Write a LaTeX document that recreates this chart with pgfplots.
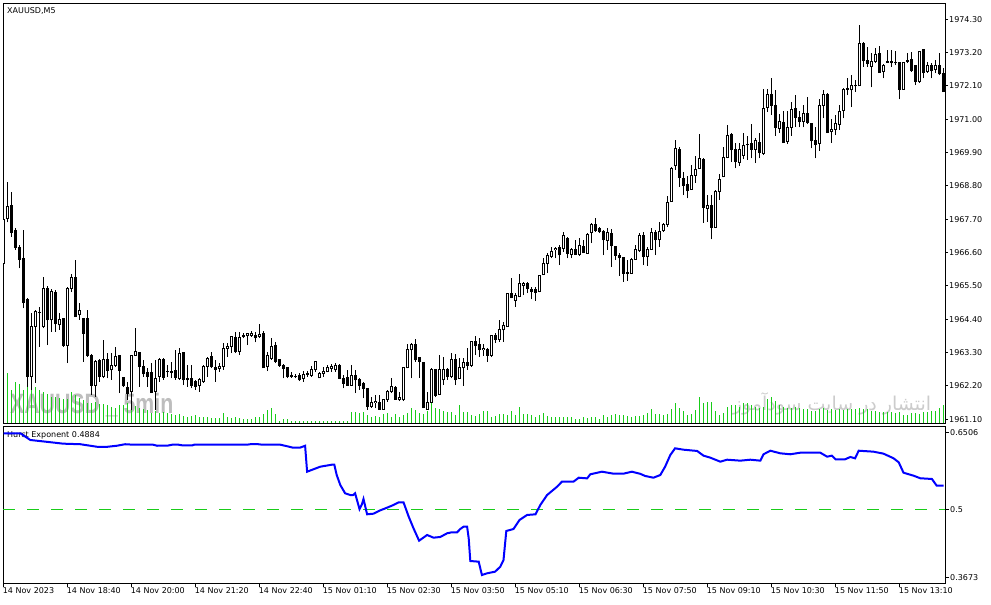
\documentclass[border=0pt]{standalone}
\usepackage{fontspec}
\setmainfont{DejaVu Sans}
\newfontfamily\arabicfont[Script=Arabic]{DejaVu Sans}
\newfontfamily\wmfont{Liberation Sans}
\TeXXeTstate=1
\usepackage{pgfplots}
\usepackage{pgfplotstable}
\pgfplotsset{compat=1.18}

\definecolor{volgreen}{rgb}{0.1,0.8,0.1}
\definecolor{wmgray}{rgb}{0.74,0.74,0.74}
\definecolor{wmlight}{rgb}{0.8,0.8,0.8}

% bar index, open, high, low, close, tick volume
\pgfplotstableread{
i o h l c v
0 1966.25 1968.30 1965.04 1967.68 52
1 1967.73 1968.93 1967.60 1968.12 50
2 1968.14 1968.60 1967.13 1967.26 33
3 1967.33 1967.40 1966.70 1966.78 41
4 1966.78 1966.85 1966.08 1966.38 39
5 1966.41 1967.35 1964.76 1964.95 33
6 1965.04 1965.10 1962.18 1962.51 38
7 1962.51 1964.60 1962.07 1964.16 41
8 1964.16 1964.70 1962.30 1964.65 36
9 1964.62 1964.82 1963.50 1964.63 33
10 1964.16 1965.80 1964.10 1965.42 31
11 1965.42 1965.50 1963.55 1964.38 29
12 1964.38 1965.40 1963.99 1965.31 26
13 1965.28 1965.37 1963.99 1964.25 26
14 1964.22 1964.60 1964.05 1964.38 25
15 1964.43 1964.45 1963.50 1963.55 24
16 1963.55 1965.45 1962.95 1965.42 24
17 1965.42 1965.90 1965.30 1965.79 31
18 1965.79 1966.36 1964.47 1964.49 28
19 1964.55 1964.93 1964.38 1964.68 25
20 1964.43 1964.45 1963.00 1963.94 23
21 1964.43 1964.70 1963.17 1963.22 20
22 1963.22 1963.24 1961.90 1962.23 20
23 1962.23 1963.06 1961.85 1963.00 21
24 1963.04 1963.10 1962.34 1962.51 19
25 1962.51 1963.72 1962.45 1963.08 19
26 1963.08 1963.28 1962.45 1962.71 18
27 1962.73 1963.28 1962.40 1962.86 16
28 1962.89 1963.50 1962.84 1963.17 15
29 1963.19 1963.22 1961.96 1962.71 18
30 1962.49 1962.51 1962.16 1962.20 18
31 1962.16 1962.34 1961.74 1961.96 20
32 1962.01 1963.22 1961.41 1963.22 19
33 1963.22 1964.10 1963.20 1963.33 17
34 1963.30 1963.32 1962.18 1962.84 15
35 1962.84 1963.06 1962.51 1962.60 14
36 1962.64 1962.78 1962.18 1962.51 13
37 1962.64 1962.95 1961.96 1961.98 10
38 1962.01 1963.06 1961.41 1962.45 12
39 1962.51 1963.11 1962.34 1963.06 10
40 1963.06 1963.11 1962.40 1962.49 11
41 1962.67 1962.90 1962.51 1962.69 10
42 1962.69 1963.00 1962.45 1962.66 9
43 1962.71 1963.39 1962.40 1962.49 8
44 1962.45 1963.44 1962.40 1963.28 9
45 1963.30 1963.32 1962.23 1962.40 7
46 1962.45 1962.89 1962.18 1962.40 6
47 1962.45 1962.89 1962.12 1962.23 7
48 1962.34 1962.40 1962.07 1962.18 8
49 1962.23 1962.45 1962.01 1962.40 6
50 1962.34 1962.89 1962.31 1962.84 6
51 1962.84 1963.17 1962.51 1963.11 6
52 1963.17 1963.33 1962.78 1962.84 5
53 1962.80 1963.06 1962.34 1962.76 5
54 1962.78 1962.95 1962.67 1962.84 5
55 1962.84 1963.61 1962.73 1963.44 10
56 1963.44 1963.61 1963.17 1963.50 6
57 1963.50 1963.83 1963.28 1963.83 5
58 1963.80 1963.99 1963.28 1963.33 6
59 1963.33 1963.99 1963.22 1963.80 5
60 1963.83 1963.94 1963.77 1963.85 4
61 1963.85 1963.96 1963.55 1963.94 4
62 1963.86 1964.01 1963.83 1963.94 4
63 1963.86 1963.99 1963.64 1963.79 6
64 1963.83 1964.23 1963.79 1963.91 6
65 1963.94 1964.01 1962.80 1962.80 9
66 1962.84 1963.33 1962.69 1963.22 13
67 1963.11 1963.77 1963.06 1963.50 15
68 1963.55 1963.66 1962.95 1963.00 9
69 1963.06 1963.08 1962.84 1962.87 2
70 1962.87 1962.91 1962.45 1962.78 4
71 1962.80 1962.84 1962.45 1962.51 4
72 1962.53 1962.67 1962.47 1962.51 2
73 1962.52 1962.58 1962.45 1962.51 2
74 1962.54 1962.62 1962.36 1962.40 2
75 1962.45 1962.69 1962.34 1962.58 2
76 1962.59 1962.69 1962.51 1962.62 2
77 1962.56 1962.87 1962.51 1962.73 2
78 1962.73 1963.02 1962.67 1963.02 2
79 1962.47 1962.67 1962.45 1962.62 2
80 1962.62 1962.84 1962.51 1962.67 2
81 1962.67 1962.89 1962.65 1962.80 2
82 1962.78 1962.91 1962.67 1962.84 2
83 1962.73 1962.95 1962.67 1962.89 2
84 1962.89 1962.91 1962.43 1962.45 2
85 1962.45 1962.56 1962.12 1962.29 2
86 1962.47 1962.73 1962.21 1962.23 2
87 1962.23 1962.89 1962.21 1962.56 11
88 1962.54 1962.73 1961.96 1962.40 11
89 1962.43 1962.45 1962.07 1962.21 10
90 1962.29 1962.34 1961.79 1962.12 11
91 1962.12 1962.14 1961.41 1961.52 8
92 1961.52 1961.85 1961.48 1961.66 6
93 1961.66 1961.90 1961.46 1961.70 7
94 1961.66 1961.90 1961.41 1961.44 6
95 1961.44 1961.77 1961.41 1961.74 9
96 1961.74 1962.07 1961.68 1962.01 10
97 1962.01 1962.47 1961.96 1962.18 6
98 1962.14 1962.21 1961.74 1961.77 9
99 1961.74 1962.01 1961.70 1961.81 6
100 1961.74 1962.84 1961.70 1962.80 8
101 1962.80 1963.57 1962.78 1963.39 10
102 1963.39 1963.61 1962.45 1963.57 15
103 1963.57 1963.75 1963.00 1963.06 13
104 1963.13 1963.17 1962.47 1963.02 10
105 1962.98 1963.00 1961.46 1961.48 9
106 1961.44 1962.01 1961.41 1961.66 12
107 1961.66 1962.78 1961.63 1962.73 20
108 1962.73 1962.76 1961.85 1961.90 15
109 1961.92 1963.22 1961.90 1962.73 14
110 1962.40 1963.17 1962.23 1962.73 12
111 1962.73 1962.78 1962.40 1962.51 11
112 1962.51 1963.28 1962.45 1963.06 11
113 1963.06 1963.24 1962.23 1962.40 8
114 1962.45 1963.11 1962.43 1962.80 18
115 1962.80 1963.11 1962.21 1962.98 11
116 1962.98 1963.44 1962.73 1962.87 11
117 1962.89 1963.68 1962.84 1963.66 8
118 1963.68 1963.86 1963.22 1963.53 7
119 1963.57 1963.77 1963.17 1963.39 9
120 1963.39 1963.60 1963.20 1963.44 12
121 1963.42 1963.46 1963.00 1963.22 12
122 1963.22 1963.88 1963.15 1963.88 6
123 1963.88 1963.94 1963.61 1963.74 7
124 1963.74 1964.38 1963.66 1964.05 9
125 1964.05 1964.32 1963.66 1964.18 9
126 1964.16 1965.24 1964.16 1965.24 8
127 1965.24 1965.75 1965.09 1965.11 12
128 1965.02 1965.26 1964.82 1965.17 8
129 1965.15 1965.90 1965.12 1965.57 16
130 1965.52 1965.64 1965.20 1965.59 9
131 1965.59 1965.64 1965.26 1965.42 9
132 1965.39 1965.48 1965.06 1965.31 8
133 1965.37 1965.48 1965.02 1965.29 6
134 1965.31 1965.86 1965.29 1965.83 8
135 1965.88 1966.41 1965.86 1966.25 10
136 1966.25 1966.60 1965.92 1966.50 7
137 1966.47 1966.77 1966.41 1966.63 6
138 1966.69 1966.80 1966.41 1966.74 6
139 1966.77 1966.85 1966.19 1966.53 6
140 1966.74 1967.29 1966.63 1967.15 6
141 1967.07 1967.10 1966.41 1966.58 6
142 1966.55 1966.74 1966.41 1966.71 6
143 1966.69 1967.02 1966.52 1966.55 4
144 1966.55 1967.07 1966.49 1966.82 4
145 1966.80 1967.02 1966.58 1966.60 6
146 1966.58 1967.24 1966.58 1967.21 5
147 1967.26 1967.57 1966.91 1967.54 6
148 1967.53 1967.73 1967.29 1967.32 6
149 1967.39 1967.46 1967.24 1967.29 4
150 1967.29 1967.34 1966.52 1967.02 8
151 1967.00 1967.40 1966.69 1967.28 6
152 1967.24 1967.37 1966.14 1966.82 8
153 1966.80 1966.82 1966.36 1966.52 9
154 1966.52 1966.60 1965.83 1966.43 8
155 1966.44 1966.47 1965.64 1965.92 8
156 1965.92 1966.36 1965.67 1965.94 7
157 1965.92 1966.41 1965.90 1966.38 6
158 1966.38 1966.85 1966.36 1966.69 7
159 1966.66 1967.26 1966.63 1967.15 7
160 1967.18 1967.29 1966.19 1966.47 8
161 1966.47 1966.80 1966.16 1966.72 10
162 1966.71 1967.40 1966.69 1967.26 14
163 1967.26 1967.35 1966.52 1967.02 9
164 1967.02 1967.62 1966.80 1967.29 9
165 1967.32 1967.57 1967.29 1967.53 8
166 1967.54 1968.47 1967.46 1968.25 9
167 1968.28 1969.42 1968.28 1969.38 14
168 1969.46 1970.32 1969.33 1970.04 20
169 1969.99 1970.07 1968.78 1969.08 15
170 1969.05 1969.27 1968.50 1968.83 12
171 1968.86 1969.13 1968.39 1968.65 8
172 1968.69 1969.49 1968.67 1969.16 9
173 1969.16 1969.79 1968.91 1969.35 13
174 1969.38 1970.52 1969.35 1969.71 26
175 1969.68 1969.71 1967.59 1968.10 20
176 1968.06 1968.50 1967.62 1968.17 21
177 1968.17 1968.50 1967.04 1967.43 21
178 1967.43 1968.67 1967.41 1968.63 12
179 1968.61 1969.20 1968.34 1969.02 8
180 1969.11 1970.10 1969.08 1969.74 10
181 1969.74 1970.81 1969.71 1970.48 16
182 1970.51 1970.54 1969.60 1969.99 18
183 1970.01 1970.21 1969.38 1969.60 18
184 1969.57 1970.21 1969.46 1969.99 16
185 1969.82 1970.54 1969.68 1970.12 20
186 1970.16 1970.45 1969.66 1970.18 20
187 1970.21 1970.84 1969.71 1970.01 18
188 1970.01 1970.37 1969.55 1970.29 16
189 1970.24 1970.54 1969.71 1969.90 15
190 1969.88 1971.99 1969.82 1971.36 16
191 1971.39 1971.99 1971.25 1971.83 24
192 1971.83 1972.35 1971.14 1971.47 26
193 1971.47 1971.97 1970.45 1970.73 22
194 1970.70 1971.17 1970.56 1970.92 18
195 1970.89 1971.29 1970.23 1970.23 16
196 1970.26 1971.29 1970.18 1970.73 15
197 1970.73 1971.58 1970.45 1971.33 15
198 1971.36 1971.80 1970.76 1971.06 16
199 1971.06 1971.29 1970.73 1970.92 15
200 1970.92 1971.47 1970.73 1971.20 14
201 1971.20 1971.73 1970.84 1970.89 14
202 1970.87 1970.89 1970.04 1970.29 12
203 1970.29 1970.73 1969.71 1970.18 12
204 1970.21 1971.66 1969.96 1971.47 14
205 1971.47 1971.97 1971.03 1971.83 15
206 1971.83 1971.88 1970.54 1970.56 13
207 1970.59 1971.00 1970.23 1970.67 14
208 1970.67 1971.14 1970.48 1970.87 13
209 1970.84 1971.47 1970.65 1971.25 14
210 1971.29 1972.02 1971.03 1971.99 13
211 1972.02 1972.35 1971.80 1971.99 14
212 1971.97 1972.46 1971.40 1972.10 14
213 1972.10 1972.30 1971.91 1972.13 14
214 1972.10 1974.11 1972.10 1973.51 15
215 1973.51 1973.56 1972.74 1972.93 14
216 1972.93 1973.40 1972.74 1972.85 14
217 1972.74 1973.20 1972.05 1972.90 12
218 1972.90 1973.34 1972.85 1973.15 12
219 1973.18 1973.42 1972.54 1972.54 11
220 1972.57 1972.82 1972.35 1972.79 11
221 1972.88 1973.29 1972.85 1972.90 11
222 1972.90 1973.29 1972.74 1972.87 11
223 1972.88 1973.26 1972.79 1972.86 10
224 1972.87 1972.90 1971.66 1971.99 11
225 1971.99 1972.90 1971.97 1972.87 8
226 1972.90 1973.20 1972.85 1972.93 8
227 1972.98 1973.23 1972.57 1972.60 10
228 1972.76 1972.79 1972.13 1972.24 10
229 1972.24 1973.26 1972.21 1973.23 9
230 1973.29 1973.31 1972.35 1972.54 11
231 1972.57 1972.90 1972.54 1972.76 11
232 1972.76 1972.87 1972.35 1972.60 12
233 1972.65 1972.96 1972.52 1972.76 12
234 1972.76 1973.18 1972.46 1972.50 15
235 1972.50 1972.68 1971.91 1971.91 18
}\bars

% Hurst exponent, read along the bar index
\pgfplotstableread{
i hurst
0 0.6494
4.2 0.6494
6.7 0.6363
11.2 0.6324
14.9 0.6291
19.2 0.6280
23.4 0.6230
26.0 0.6230
28.4 0.6251
30.4 0.6280
32.4 0.6271
37.4 0.6271
38.4 0.6250
41.2 0.6255
42.2 0.6271
43.7 0.6271
44.7 0.6258
47.2 0.6258
47.7 0.6271
60.9 0.6271
61.7 0.6280
63.7 0.6280
64.7 0.6271
69.2 0.6271
71.2 0.6235
72.4 0.6212
74.2 0.6215
75.4 0.6250
75.9 0.5742
79.2 0.5840
82.1 0.5879
82.7 0.5879
83.3 0.5677
84.2 0.5481
85.4 0.5319
86.7 0.5285
87.4 0.5285
87.9 0.5319
89.0 0.5010
89.6 0.5103
90.0 0.5207
90.9 0.4907
92.5 0.4919
94.2 0.4985
95.9 0.5037
97.5 0.5090
98.8 0.5142
100.0 0.5142
101.3 0.4861
102.5 0.4633
103.9 0.4390
105.9 0.4502
107.5 0.4449
109.2 0.4463
110.9 0.4535
112.1 0.4555
113.4 0.4555
114.2 0.4619
115.0 0.4664
115.9 0.4664
116.3 0.4437
116.7 0.3992
118.8 0.3979
119.6 0.3718
120.9 0.3751
122.9 0.3783
124.2 0.3881
125.0 0.4012
125.7 0.4580
127.5 0.4619
129.0 0.4796
130.9 0.4894
133.0 0.4907
134.2 0.5090
135.9 0.5285
138.4 0.5448
139.6 0.5546
142.5 0.5546
143.8 0.5624
145.9 0.5611
146.7 0.5691
149.6 0.5742
152.5 0.5703
155.0 0.5703
157.1 0.5742
159.2 0.5700
160.4 0.5658
162.5 0.5624
164.2 0.5677
165.4 0.5840
166.7 0.6069
167.9 0.6200
170.0 0.6173
173.4 0.6148
175.0 0.6056
176.7 0.6017
179.2 0.5938
180.9 0.5977
184.2 0.5958
186.7 0.5977
189.2 0.5958
190.0 0.6083
191.7 0.6153
194.2 0.6102
196.7 0.6083
199.2 0.6114
204.2 0.6114
205.9 0.6036
207.1 0.6056
208.0 0.5985
210.4 0.5985
211.7 0.6030
212.9 0.6004
213.8 0.6153
217.5 0.6134
220.0 0.6095
222.5 0.6005
223.8 0.5926
225.0 0.5722
227.5 0.5664
229.2 0.5613
232.1 0.5599
233.3 0.5468
235.0 0.5468
}\hurst

\pgfplotsset{
  mtpanel/.style={
    scale only axis, anchor=north west, width=942pt,
    xmin=-0.125, xmax=235.375,
    axis line style={line width=1pt, black},
    tick style={line width=1pt, black},
    tick align=outside, major tick length=3pt,
    every tick label/.append style={font=\fontsize{8}{9}\selectfont, text=black},
    yticklabel style={anchor=west, inner sep=0pt, xshift=1pt},
  },
}

\begin{document}
\begin{tikzpicture}[x=1pt,y=1pt]
\useasboundingbox (0pt,0pt) rectangle (991pt,-605pt);
\fill[white] (0pt,0pt) rectangle (991pt,-605pt);

% watermarks under the bars
\node[anchor=base west, inner sep=0pt, text=wmgray, xscale=0.76,
      font=\wmfont\bfseries\fontsize{28}{28}\selectfont] at (10pt,-413pt) {XAUUSD \_ 5min};
\node[anchor=base, inner sep=0pt, text=wmlight,
      font=\arabicfont\fontsize{19}{19}\selectfont] at (832pt,-410pt) {\beginR انتشار در سایت سودآموز\endR};

% volumes
\begin{axis}[mtpanel, at={(3pt,-3pt)}, height=420pt, ymin=0, ymax=420, axis lines=none]
\addplot[ycomb, color=volgreen, line width=1.5pt] table[x=i, y=v] {\bars};
\end{axis}

% price candles
\begin{axis}[mtpanel, at={(3pt,-3pt)}, height=420pt,
  ymin=1960.978, ymax=1974.838,
  xtick=\empty, ytick pos=right,
  ytick={1961.1,1962.2,1963.3,1964.4,1965.5,1966.6,1967.7,1968.8,1969.9,1971.0,1972.1,1973.2,1974.3},
  yticklabels={1961.10,1962.20,1963.30,1964.40,1965.50,1966.60,1967.70,1968.80,1969.90,1971.00,1972.10,1973.20,1974.30},
]
% wicks
\addplot[quiver={u=0, v=\thisrow{h}-\thisrow{l}}, -, black, line width=1pt]
  table[x=i, y=l] {\bars};
% bodies
\addplot[quiver={u=0, v={abs(\thisrow{c}-\thisrow{o})+0.033}}, -, black, line width=3pt]
  table[x=i, y expr={min(\thisrow{o},\thisrow{c})-0.0165}] {\bars};
% hollow inside of rising candles
\addplot[quiver={u=0, v={(\thisrow{c}>\thisrow{o})*max(0,\thisrow{c}-\thisrow{o}-0.033)}}, -, white, line width=1pt]
  table[x=i, y expr={\thisrow{o}+0.0165}] {\bars};
\end{axis}

\node[anchor=base west, inner sep=0pt, font=\fontsize{8}{9}\selectfont] at (7pt,-13.5pt) {XAUUSD,M5};
\node[anchor=base west, inner sep=0pt, font=\fontsize{8}{9}\selectfont] at (7pt,-437pt) {Hurst Exponent 0.4884};

% indicator window
\begin{axis}[mtpanel, at={(3pt,-426pt)}, height=157pt,
  ymin=0.3561, ymax=0.6637,
  ytick pos=right, xtick pos=bottom,
  ytick={0.3673,0.5,0.6506}, yticklabels={0.3673,0.5,0.6506},
  xtick={0,16,...,224},
  xticklabels={14 Nov 2023,14 Nov 18:40,14 Nov 20:00,14 Nov 21:20,14 Nov 22:40,
    15 Nov 01:10,15 Nov 02:30,15 Nov 03:50,15 Nov 05:10,15 Nov 06:30,
    15 Nov 07:50,15 Nov 09:10,15 Nov 10:30,15 Nov 11:50,15 Nov 13:10},
  xticklabel style={anchor=north west, inner sep=0pt, xshift=-0.8pt},
  major tick length=4pt,
]
\addplot[color=volgreen, line width=1.5pt, dash pattern=on 12pt off 12pt] coordinates {(-0.125,0.5) (235.375,0.5)};
\addplot[blue, line width=2pt] table[x=i, y=hurst] {\hurst};
\end{axis}
\end{tikzpicture}
\end{document}
